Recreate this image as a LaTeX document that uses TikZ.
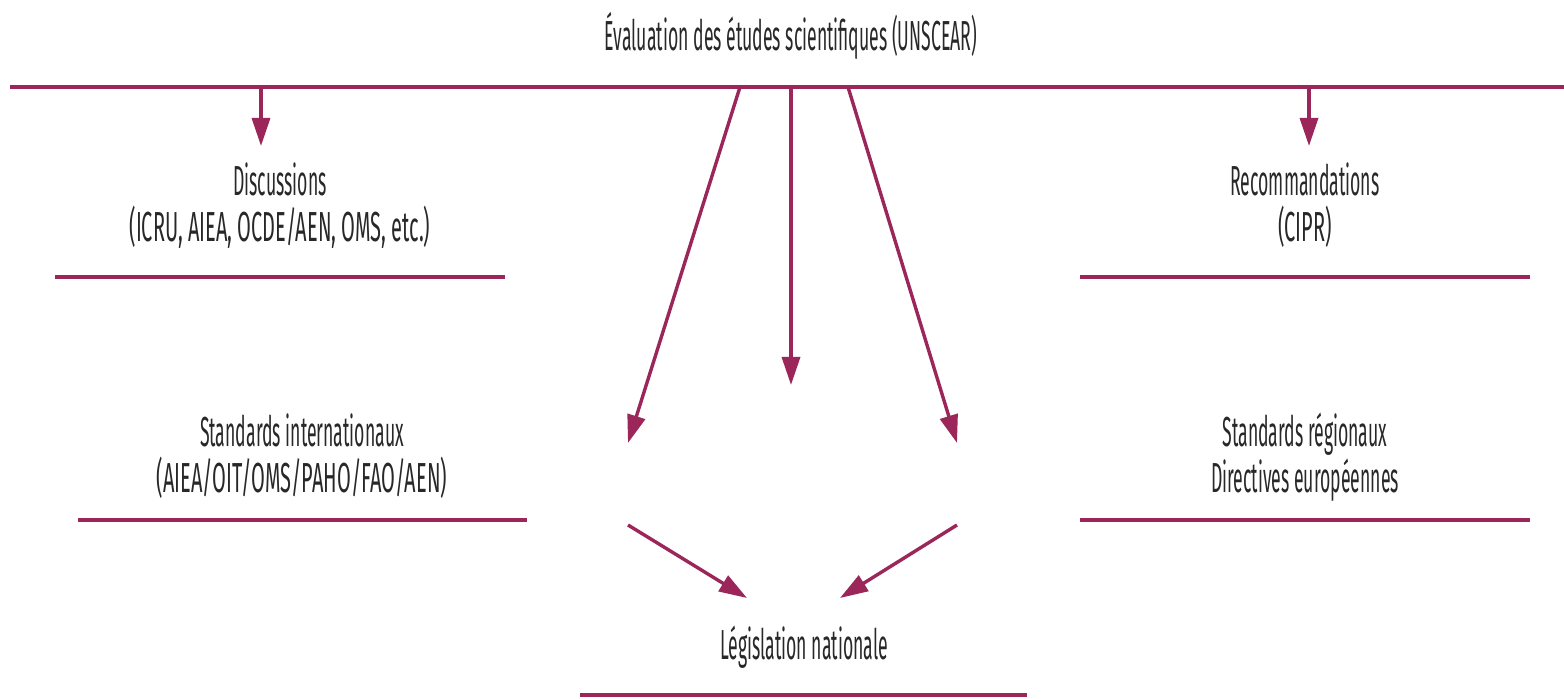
\documentclass[tikz,border=0pt]{standalone}
\usepackage{fontspec}
\setmainfont{Fira Sans}[FakeStretch=0.42]
\newfontfamily\capsline{Fira Sans}[FakeStretch=0.475]
\usetikzlibrary{arrows.meta}
\definecolor{wine}{RGB}{155,38,90}
\definecolor{txt}{RGB}{40,40,40}
\tikzset{
  lbl/.style={font=\fontsize{21pt}{23pt}\selectfont, text=txt, align=center, inner sep=0pt, anchor=base},
  rule/.style={draw=wine, line width=2.1pt},
  arr/.style={draw=wine, line width=1.7pt, -{Triangle[length=14pt,width=9pt]}}
}
\begin{document}
\begin{tikzpicture}[x=0.5pt,y=-0.5pt]
\useasboundingbox (0,0) rectangle (1564,699);
% texts (base anchor = baseline of the last line)
\node[lbl] (top) at (791,51) {Évaluation des études scientifiques (UNSCEAR)};
\node[lbl] (disc) at (280,242) {Discussions\\{\capsline (ICRU, AIEA, OCDE/AEN, OMS, etc.)}};
\node[lbl] (rec) at (1305,242) {Recommandations\\{\capsline (CIPR)}};
\node[lbl] (stdi) at (302,493) {Standards internationaux\\{\capsline (AIEA/OIT/OMS/PAHO/FAO/AEN)}};
\node[lbl] (stdr) at (1305,493) {Standards régionaux\\Directives européennes};
\node[lbl] (leg) at (804,660) {Législation nationale};
% rules
\coordinate (topL) at (10,87);
\coordinate (topR) at (1564,87);
\draw[rule] (topL) -- (topR);
\coordinate (discL) at (55,277);  \coordinate (discR) at (505,277);
\coordinate (recL) at (1080,277); \coordinate (recR) at (1530,277);
\coordinate (stdiL) at (78,520);  \coordinate (stdiR) at (527,520);
\coordinate (stdrL) at (1080,520); \coordinate (stdrR) at (1530,520);
\coordinate (legL) at (580,695);  \coordinate (legR) at (1027,695);
\draw[rule] (discL) -- (discR);
\draw[rule] (recL) -- (recR);
\draw[rule] (stdiL) -- (stdiR);
\draw[rule] (stdrL) -- (stdrR);
\draw[rule] (legL) -- (legR);
% arrows from the top line
\coordinate (a1s) at (261,87);  \coordinate (a1e) at (261,146);
\coordinate (a2s) at (1309,87); \coordinate (a2e) at (1309,146);
\coordinate (c1s) at (740,87);  \coordinate (c1e) at (628,443);
\coordinate (c2s) at (791,87);  \coordinate (c2e) at (791,385);
\coordinate (c3s) at (848,87);  \coordinate (c3e) at (957,443);
\coordinate (d1s) at (628,525); \coordinate (d1e) at (747,598);
\coordinate (d2s) at (957,525); \coordinate (d2e) at (840,598);
\draw[arr] (a1s) -- (a1e);
\draw[arr] (a2s) -- (a2e);
\draw[arr] (c1s) -- (c1e);
\draw[arr] (c2s) -- (c2e);
\draw[arr] (c3s) -- (c3e);
\draw[arr] (d1s) -- (d1e);
\draw[arr] (d2s) -- (d2e);
\end{tikzpicture}
\end{document}
